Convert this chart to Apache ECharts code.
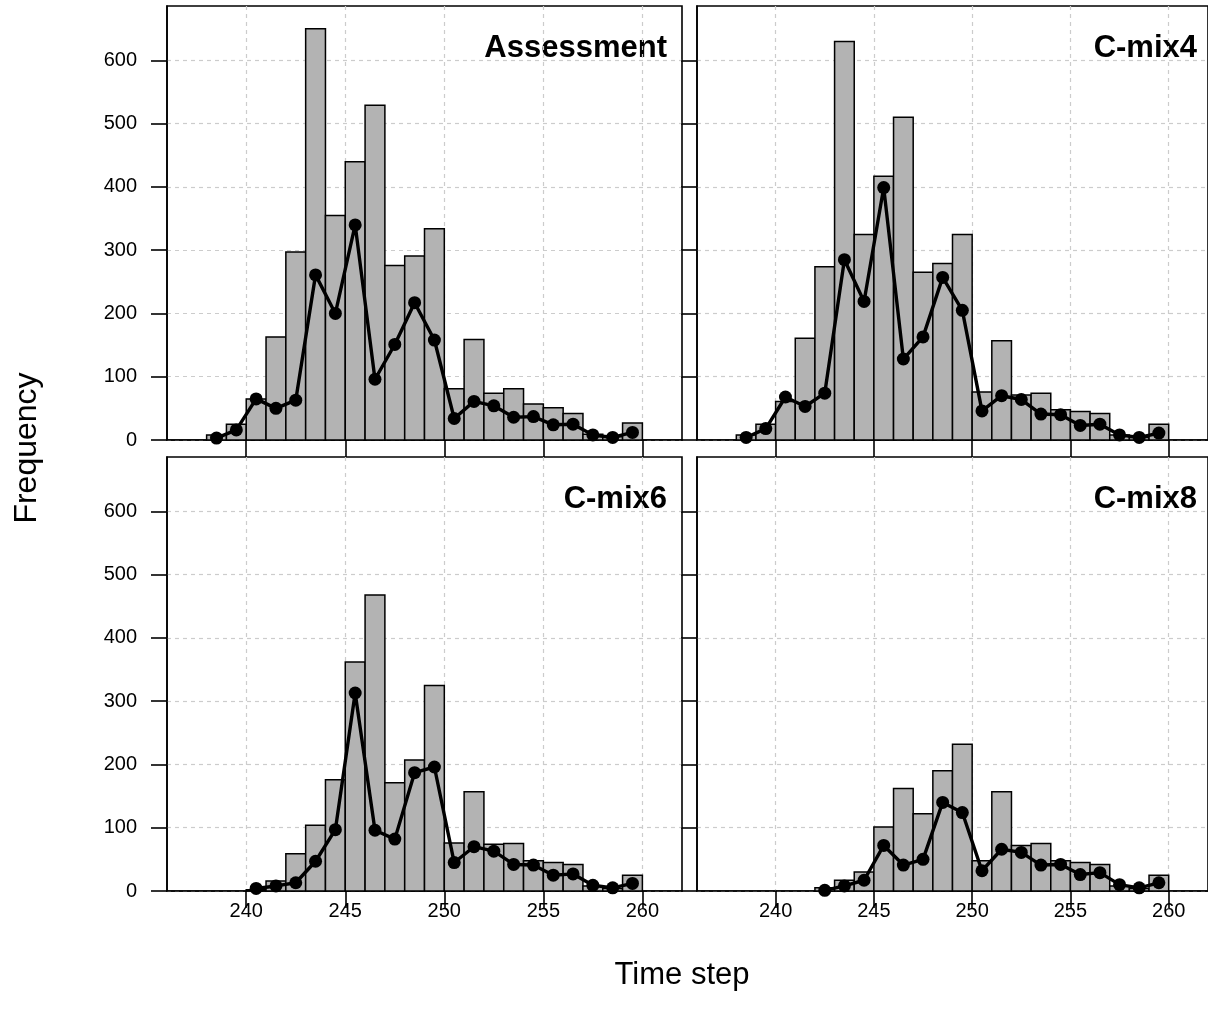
<!DOCTYPE html>
<html>
<head>
<meta charset="utf-8">
<script src="https://cdn.jsdelivr.net/npm/echarts@6/dist/echarts.min.js"></script>
<style>
html,body{margin:0;padding:0;background:#fff;}
#chart{width:1208px;height:1019px;}
</style>
</head>
<body>
<div id="chart"></div>
<script>
// ---- data ----
const binStarts = [238,239,240,241,242,243,244,245,246,247,248,249,250,251,252,253,254,255,256,257,258,259];
const panelNames = ['Assessment','C-mix4','C-mix6','C-mix8'];
const xTickValues = [240,245,250,255,260];
const yTickValues = [0,100,200,300,400,500,600];

const assessmentBars = [8,25,65,163,297,650,355,440,529,276,291,334,81,159,74,81,57,51,42,9,5,27];
const assessmentLine = [3,16,65,50,63,261,200,340,96,151,217,158,34,61,54,36,37,24,25,8,4,12];

const cmix4Bars = [8,25,61,161,274,630,325,417,510,265,279,325,76,157,71,74,48,45,42,8,4,25];
const cmix4Line = [4,18,68,53,74,285,219,399,128,163,257,205,46,70,64,41,40,23,25,8,4,11];

const cmix6Bars = [null,null,2,16,59,104,176,362,468,171,207,325,76,157,74,75,48,45,42,8,4,25];
const cmix6Line = [null,null,4,8,13,47,97,313,96,82,187,196,45,70,63,42,41,25,27,9,5,12];

const cmix8Bars = [null,null,null,null,5,17,30,101,162,122,190,232,48,157,72,75,48,45,42,8,4,25];
const cmix8Line = [null,null,null,null,1,8,17,72,41,50,140,124,32,66,61,41,42,26,29,10,5,13];

const barSets = [assessmentBars, cmix4Bars, cmix6Bars, cmix8Bars];
const lineSets = [assessmentLine, cmix4Line, cmix6Line, cmix8Line];

// ---- layout ----
const FONT = '"Liberation Sans", Arial, sans-serif';
const gridsPos = [
  {left:167, top:6, width:515, height:434},
  {left:697, top:6, width:515, height:434},
  {left:167, top:457, width:515, height:434},
  {left:697, top:457, width:515, height:434}
];
const X_MIN = 236, X_MAX = 262, Y_MIN = 0, Y_MAX = 686;

const grids = [], xAxes = [], yAxes = [], series = [], graphics = [];
gridsPos.forEach((g, i) => {
  grids.push({left:g.left, top:g.top, width:g.width, height:g.height, show:true,
    borderColor:'#000', borderWidth:1.6, backgroundColor:'transparent', containLabel:false});
  const isBottom = i >= 2, isLeft = (i % 2) === 0;
  xAxes.push({
    type:'value', gridIndex:i, min:X_MIN, max:X_MAX, interval:1,
    axisLine:{show:true, onZero:false, lineStyle:{color:'#000', width:1.6}},
    axisTick:{show:true, length:17, inside:false, customValues:xTickValues, lineStyle:{color:'#000', width:1.6}},
    axisLabel:{show:isBottom, customValues:xTickValues, margin:10, color:'#000', fontSize:20, fontFamily:FONT},
    splitLine:{show:true, lineStyle:{color:'#cccccc', width:1.2, type:[4,4]}}
  });
  yAxes.push({
    type:'value', gridIndex:i, min:Y_MIN, max:Y_MAX, interval:100,
    axisLine:{show:true, lineStyle:{color:'#000', width:1.6}},
    axisTick:{show:true, length:16, inside:false, customValues:yTickValues, lineStyle:{color:'#000', width:1.6}},
    axisLabel:{show:isLeft, customValues:yTickValues, margin:30, color:'#000', fontSize:20, fontFamily:FONT},
    splitLine:{show:true, lineStyle:{color:'#cccccc', width:1.2, type:[4,4]}}
  });
  const bars = [];
  barSets[i].forEach((v, k) => { if (v !== null) bars.push([binStarts[k], binStarts[k] + 1, v]); });
  series.push({
    type:'custom', xAxisIndex:i, yAxisIndex:i, z:2, silent:true,
    encode:{x:[0,1], y:2},
    data:bars,
    renderItem:function(params, api){
      const p0 = api.coord([api.value(0), 0]);
      const p1 = api.coord([api.value(1), api.value(2)]);
      return {type:'rect', shape:{x:p0[0], y:p1[1], width:p1[0]-p0[0], height:p0[1]-p1[1]},
        style:{fill:'#b3b3b3', stroke:'#000', lineWidth:1.5}};
    }
  });
  const pts = [];
  lineSets[i].forEach((v, k) => { if (v !== null) pts.push([binStarts[k] + 0.5, v]); });
  series.push({
    type:'line', xAxisIndex:i, yAxisIndex:i, z:5, silent:true, animation:false,
    data:pts, symbol:'circle', symbolSize:13, showSymbol:true,
    itemStyle:{color:'#000'}, lineStyle:{color:'#000', width:3.4}
  });
  graphics.push({
    type:'text', right: 1208 - (g.left + g.width) + 15, top: g.top + 27,
    style:{text:panelNames[i], fill:'#000', font:'bold 31px ' + FONT, textAlign:'right'}
  });
});

graphics.push({type:'text', x:682, y:975,
  style:{text:'Time step', fill:'#000', font:'31px ' + FONT, textAlign:'center', textVerticalAlign:'middle'}});
graphics.push({type:'text', x:27, y:448, rotation:Math.PI/2,
  style:{text:'Frequency', fill:'#000', font:'32px ' + FONT, textAlign:'center', textVerticalAlign:'middle'}});

const chart = echarts.init(document.getElementById('chart'), null, {renderer:'canvas'});
chart.setOption({
  animation:false,
  backgroundColor:'#fff',
  grid:grids, xAxis:xAxes, yAxis:yAxes, series:series, graphic:graphics
});
</script>
</body>
</html>
